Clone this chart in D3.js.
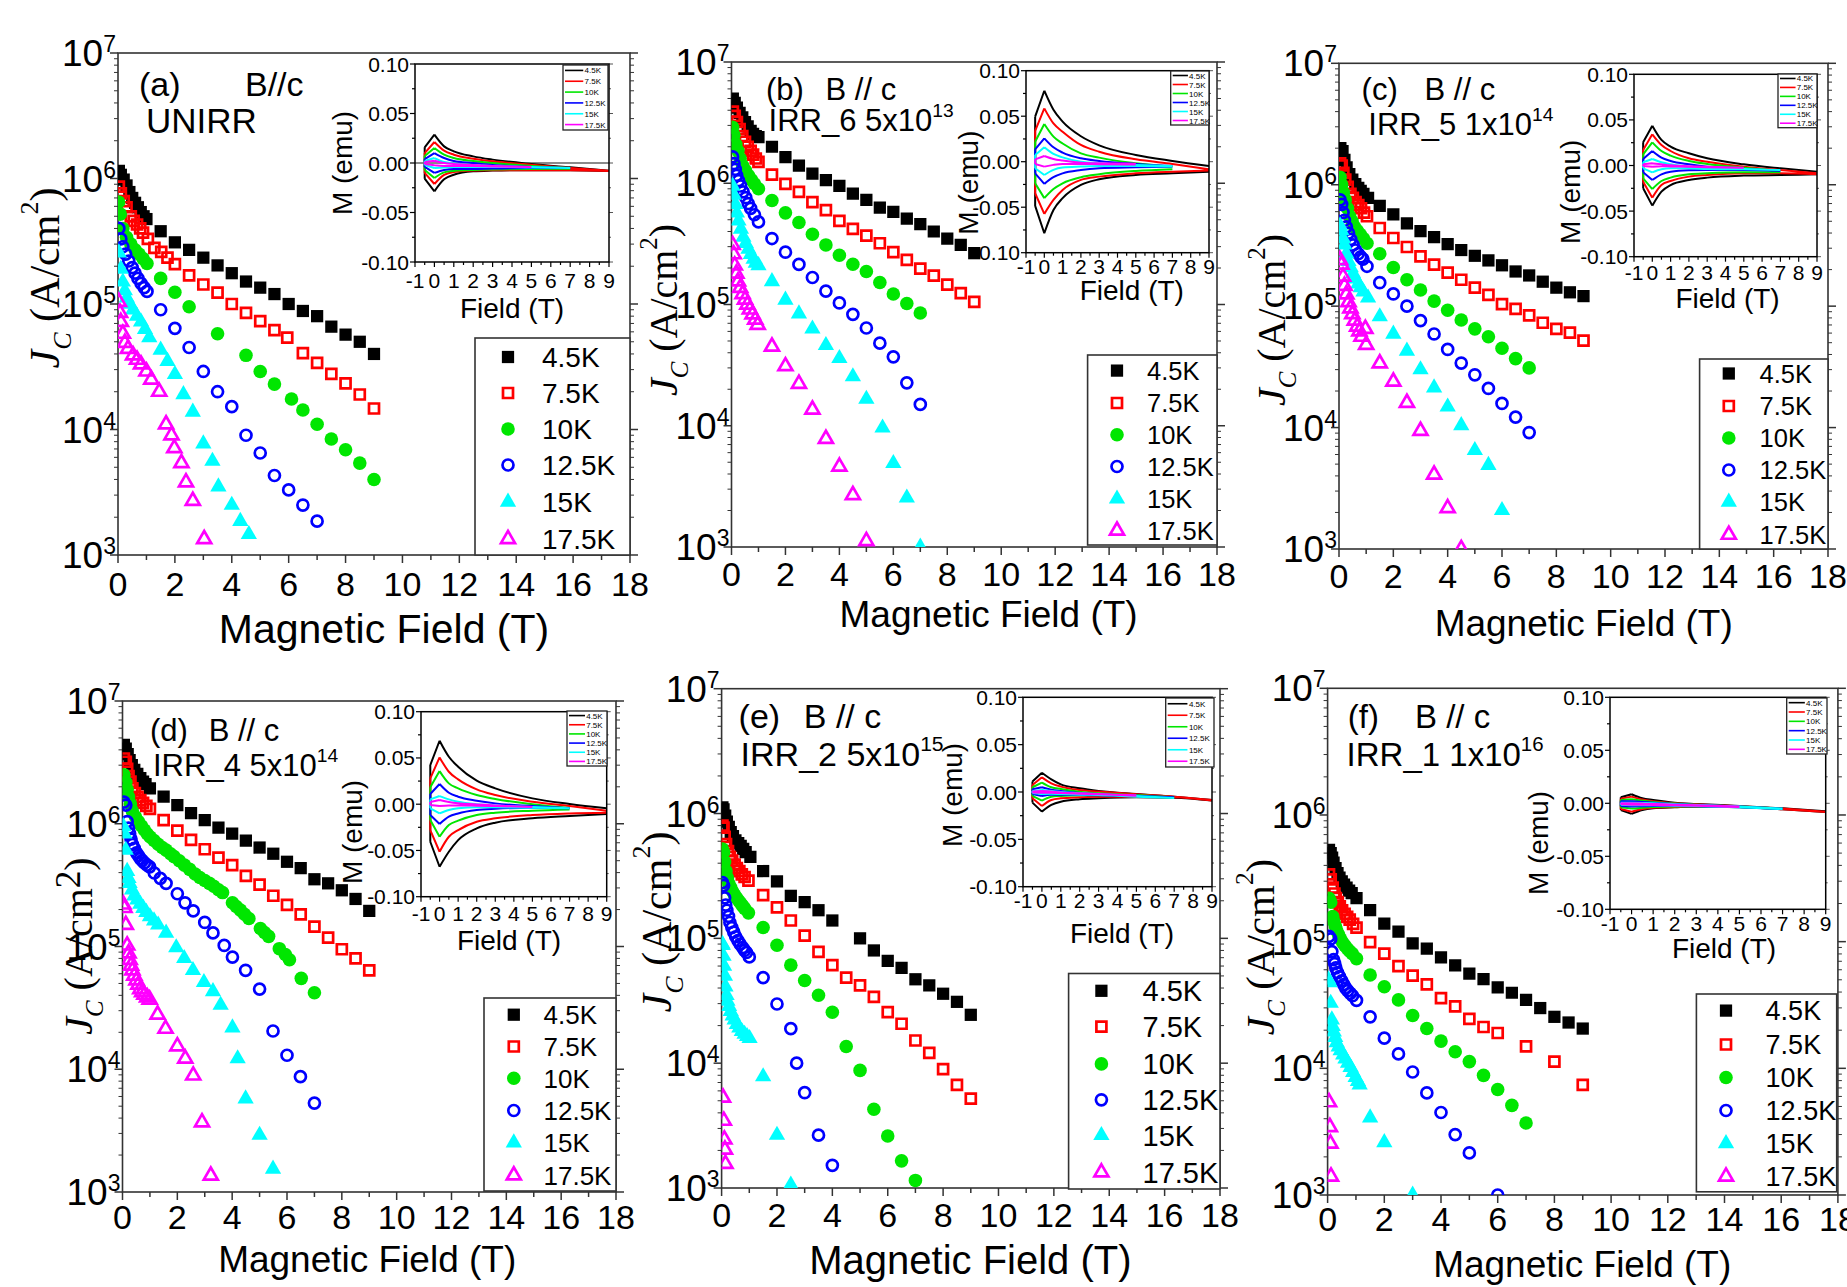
<!DOCTYPE html>
<html><head><meta charset="utf-8">
<script src="https://d3js.org/d3.v7.min.js"></script>
<style>body{margin:0;background:#fff}svg{display:block}text{font-family:"Liberation Sans",Arial,sans-serif;fill:#000}</style>
</head><body><svg id="c" width="1847" height="1287"></svg>
<script>
// ---------------- DATA ----------------
const temps = ["4.5K","7.5K","10K","12.5K","15K","17.5K"];
const colors = ["#000000","#ff0000","#00e600","#0000ff","#00ffff","#ff00ff"];
const shapes = ["square","square","circle","circle","triangle","triangle"];
const filled = [true,false,true,false,true,false];
const xTickValues = [0,2,4,6,8,10,12,14,16,18];
const yTickExps = [3,4,5,6,7];
const insetXTickValues = [-1,0,1,2,3,4,5,6,7,8,9];
const insetYTickValues = [-0.10,-0.05,0,0.05,0.10];
const insetYTickLabels = ["-0.10","-0.05","0.00","0.05","0.10"];
const insetFields = [-0.5,0,0.5,1,2,3,5,7,9];
const panelLabels = ["(a)","(b)","(c)","(d)","(e)","(f)"];
const panelOrient = ["B//c","B // c","B // c","B // c","B // c","B // c"];
const sampleNames = ["UNIRR","IRR_6 5x10","IRR_5 1x10","IRR_4 5x10","IRR_2 5x10","IRR_1 1x10"];
const fluenceExp = ["","13","14","14","15","16"];

// Jc(B) per panel, series order 4.5K,7.5K,10K,12.5K,15K,17.5K ; [B (T), Jc (A/cm2)]
const jcA = [
 [[0.03,1.15e6],[0.1,1.07e6],[0.2,9.8e5],[0.3,8.8e5],[0.4,7.8e5],[0.5,7.0e5],[0.6,6.4e5],[0.7,5.9e5],[0.8,5.4e5],[0.9,5.0e5],[1.0,4.75e5],[1.5,3.8e5],[2,3.1e5],[2.5,2.7e5],[3,2.34e5],[3.5,2.03e5],[4,1.76e5],[4.5,1.51e5],[5,1.35e5],[5.5,1.2e5],[6,1.0e5],[6.5,8.8e4],[7,8.0e4],[7.5,6.6e4],[8,5.7e4],[8.5,5.0e4],[9,4.0e4]],
 [[0.03,8.6e5],[0.1,7.6e5],[0.2,6.6e5],[0.3,5.9e5],[0.45,5.0e5],[0.55,4.6e5],[0.67,4.3e5],[0.78,4.0e5],[0.88,3.7e5],[1.05,3.3e5],[1.28,2.8e5],[1.52,2.6e5],[1.74,2.34e5],[2,2.08e5],[2.5,1.69e5],[3,1.43e5],[3.5,1.23e5],[4,1.0e5],[4.5,8.5e4],[5,7.3e4],[5.5,6.2e4],[5.95,5.4e4],[6.5,4.06e4],[7,3.4e4],[7.5,2.77e4],[8,2.33e4],[8.5,1.9e4],[9,1.47e4]],
 [[0.02,6.5e5],[0.08,5.2e5],[0.17,4.0e5],[0.3,3.4e5],[0.45,3.0e5],[0.6,2.7e5],[0.74,2.5e5],[0.88,2.3e5],[1.02,2.1e5],[1.5,1.6e5],[2,1.24e5],[2.5,9.5e4],[3.5,5.8e4],[4.5,3.9e4],[5,2.9e4],[5.5,2.3e4],[6.1,1.75e4],[6.5,1.43e4],[7,1.1e4],[7.5,8.4e3],[8,6.9e3],[8.5,5.4e3],[9,4.0e3]],
 [[0.03,4.0e5],[0.1,3.3e5],[0.17,2.86e5],[0.27,2.5e5],[0.38,2.2e5],[0.5,1.95e5],[0.6,1.76e5],[0.7,1.6e5],[0.81,1.46e5],[0.92,1.35e5],[1.02,1.26e5],[1.5,9.0e4],[2,6.4e4],[2.5,4.5e4],[3,2.9e4],[3.5,2.0e4],[4,1.52e4],[4.5,9.0e3],[5,6.5e3],[5.5,4.3e3],[6,3.3e3],[6.5,2.5e3],[7,1.86e3]],
 [[0.03,2.56e5],[0.1,1.9e5],[0.17,1.5e5],[0.24,1.28e5],[0.31,1.12e5],[0.42,1.0e5],[0.53,9.0e4],[0.67,8.0e4],[0.81,7.2e4],[0.95,6.3e4],[1.1,5.4e4],[1.5,4.3e4],[1.74,3.5e4],[2,2.75e4],[2.3,1.9e4],[2.63,1.38e4],[3,7.7e3],[3.32,5.6e3],[3.53,3.5e3],[4,2.5e3],[4.3,1.86e3],[4.6,1.46e3]],
 [[0.03,1.04e5],[0.07,8.5e4],[0.1,7.2e4],[0.17,5.8e4],[0.24,4.9e4],[0.35,4.4e4],[0.53,3.9e4],[0.67,3.6e4],[0.81,3.3e4],[1.0,2.9e4],[1.17,2.5e4],[1.45,2.0e4],[1.69,1.1e4],[1.88,9.0e3],[1.98,7.1e3],[2.23,5.4e3],[2.39,3.8e3],[2.63,2.7e3],[3.03,1.34e3]]
];
const jcB = [
 [[0.05,5.0e6],[0.12,4.6e6],[0.2,4.2e6],[0.3,3.8e6],[0.4,3.5e6],[0.5,3.2e6],[0.6,2.95e6],[0.71,2.7e6],[0.8,2.55e6],[0.9,2.45e6],[1.0,2.4e6],[1.5,2.0e6],[2,1.64e6],[2.5,1.4e6],[3,1.2e6],[3.5,1.06e6],[4,9.5e5],[4.5,8.2e5],[5,7.3e5],[5.5,6.3e5],[6,5.8e5],[6.5,5.1e5],[7,4.6e5],[7.5,4.0e5],[8,3.5e5],[8.5,3.1e5],[9,2.65e5]],
 [[0.05,3.9e6],[0.12,3.6e6],[0.2,3.2e6],[0.3,2.8e6],[0.4,2.45e6],[0.5,2.2e6],[0.6,2.0e6],[0.71,1.85e6],[0.8,1.72e6],[0.9,1.6e6],[1.0,1.5e6],[1.5,1.18e6],[2,9.9e5],[2.5,8.5e5],[3,7.0e5],[3.5,6.0e5],[4,4.9e5],[4.5,4.2e5],[5,3.7e5],[5.5,3.2e5],[6,2.7e5],[6.5,2.33e5],[7,1.98e5],[7.5,1.73e5],[8,1.46e5],[8.5,1.24e5],[9,1.05e5]],
 [[0.04,2.9e6],[0.09,2.5e6],[0.16,2.1e6],[0.24,1.85e6],[0.32,1.6e6],[0.41,1.4e6],[0.52,1.27e6],[0.63,1.16e6],[0.74,1.07e6],[0.85,9.9e5],[1.0,9.0e5],[1.5,7.2e5],[2,5.7e5],[2.5,4.75e5],[3,3.8e5],[3.5,3.1e5],[4,2.55e5],[4.5,2.15e5],[5,1.87e5],[5.5,1.52e5],[6,1.22e5],[6.5,1.02e5],[7,8.5e4]],
 [[0.04,1.65e6],[0.09,1.45e6],[0.14,1.3e6],[0.19,1.16e6],[0.26,1.05e6],[0.34,9.5e5],[0.43,8.5e5],[0.53,7.6e5],[0.62,6.8e5],[0.71,6.2e5],[0.85,5.5e5],[1.0,4.8e5],[1.5,3.5e5],[2,2.7e5],[2.5,2.14e5],[3,1.67e5],[3.5,1.29e5],[4,1.03e5],[4.5,8.3e4],[5,6.4e4],[5.5,4.8e4],[6,3.7e4],[6.5,2.26e4],[7,1.5e4]],
 [[0.04,9.5e5],[0.09,8.0e5],[0.15,6.7e5],[0.2,5.7e5],[0.26,4.9e5],[0.35,4.2e5],[0.44,3.6e5],[0.53,3.2e5],[0.63,2.87e5],[0.72,2.6e5],[0.82,2.37e5],[0.9,2.2e5],[1.0,2.1e5],[1.5,1.55e5],[2,1.09e5],[2.5,8.4e4],[3,6.3e4],[3.5,4.6e4],[4,3.6e4],[4.5,2.54e4],[5,1.66e4],[5.6,9.6e3],[6,4.9e3],[6.5,2.54e3],[7,1.0e3]],
 [[0.04,3.1e5],[0.08,2.6e5],[0.12,2.1e5],[0.18,1.8e5],[0.24,1.55e5],[0.32,1.37e5],[0.41,1.22e5],[0.5,1.1e5],[0.59,1.0e5],[0.68,9.1e4],[0.78,8.3e4],[0.88,7.5e4],[0.97,6.8e4],[1.5,4.5e4],[2,3.1e4],[2.5,2.22e4],[3,1.36e4],[3.5,7.8e3],[4,4.6e3],[4.5,2.68e3],[5,1.12e3]]
];
const jcC = [
 [[0.05,2.0e6],[0.13,1.89e6],[0.2,1.6e6],[0.28,1.39e6],[0.38,1.22e6],[0.49,1.1e6],[0.6,1.01e6],[0.71,9.4e5],[0.8,8.9e5],[0.9,8.4e5],[1.07,7.8e5],[1.5,6.7e5],[2,5.7e5],[2.5,4.8e5],[3,4.15e5],[3.5,3.7e5],[4,3.24e5],[4.5,2.9e5],[5,2.6e5],[5.5,2.38e5],[6,2.17e5],[6.5,1.93e5],[7,1.79e5],[7.5,1.59e5],[8,1.42e5],[8.5,1.3e5],[9,1.21e5]],
 [[0.04,1.5e6],[0.1,1.44e6],[0.16,1.25e6],[0.23,1.1e6],[0.32,9.6e5],[0.42,8.4e5],[0.51,7.8e5],[0.61,7.2e5],[0.71,6.8e5],[0.81,6.4e5],[0.92,5.9e5],[1.03,5.5e5],[1.5,4.4e5],[2,3.64e5],[2.5,3.07e5],[3,2.57e5],[3.5,2.2e5],[4,1.89e5],[4.5,1.65e5],[5,1.42e5],[5.5,1.24e5],[6,1.04e5],[6.5,9.5e4],[7,8.4e4],[7.5,7.3e4],[8,6.5e4],[8.5,6.05e4],[9,5.2e4]],
 [[0.04,1.15e6],[0.1,1.0e6],[0.16,8.6e5],[0.23,7.5e5],[0.31,6.4e5],[0.39,5.5e5],[0.48,5.0e5],[0.57,4.5e5],[0.67,4.2e5],[0.78,3.9e5],[0.9,3.6e5],[1.03,3.3e5],[1.5,2.7e5],[2,2.08e5],[2.5,1.65e5],[3,1.36e5],[3.5,1.1e5],[4,9.25e4],[4.5,7.7e4],[5,6.5e4],[5.5,5.6e4],[6,4.5e4],[6.5,3.7e4],[7,3.1e4]],
 [[0.04,7.5e5],[0.1,6.9e5],[0.15,5.9e5],[0.2,5.1e5],[0.27,4.5e5],[0.35,4.0e5],[0.43,3.55e5],[0.52,3.2e5],[0.61,2.9e5],[0.71,2.7e5],[0.8,2.55e5],[0.88,2.44e5],[1.03,2.13e5],[1.5,1.56e5],[2,1.26e5],[2.5,1.0e5],[3,7.6e4],[3.5,5.9e4],[4,4.4e4],[4.5,3.4e4],[5,2.72e4],[5.5,2.1e4],[6,1.58e4],[6.5,1.22e4],[7,9.1e3]],
 [[0.04,4.6e5],[0.09,4.2e5],[0.15,3.6e5],[0.2,3.2e5],[0.27,2.7e5],[0.35,2.34e5],[0.43,2.08e5],[0.52,1.86e5],[0.61,1.68e5],[0.71,1.53e5],[0.8,1.42e5],[0.9,1.31e5],[1.07,1.17e5],[1.5,8.2e4],[2,5.9e4],[2.5,4.27e4],[3,3.0e4],[3.5,2.13e4],[4,1.48e4],[4.5,1.04e4],[5,6.5e3],[5.5,4.9e3],[6,2.08e3]],
 [[0.04,2.4e5],[0.09,2.2e5],[0.15,1.75e5],[0.2,1.47e5],[0.27,1.25e5],[0.35,1.08e5],[0.42,9.6e4],[0.49,8.6e4],[0.58,7.6e4],[0.67,6.8e4],[0.75,6.2e4],[0.83,5.6e4],[0.97,6.5e4],[1.0,4.8e4],[1.5,3.38e4],[2,2.39e4],[2.5,1.6e4],[3,9.4e3],[3.5,4.1e3],[4,2.17e3],[4.5,1.0e3]]
];
const jcD = [
 [[0.05,4.4e6],[0.12,4.1e6],[0.19,3.7e6],[0.26,3.3e6],[0.34,3.0e6],[0.43,2.75e6],[0.54,2.55e6],[0.65,2.35e6],[0.75,2.2e6],[0.84,2.1e6],[1.0,1.94e6],[1.5,1.66e6],[2,1.42e6],[2.5,1.22e6],[3,1.07e6],[3.5,9.3e5],[4,8.3e5],[4.5,7.3e5],[5,6.4e5],[5.5,5.7e5],[6,4.9e5],[6.5,4.35e5],[7,3.53e5],[7.5,3.27e5],[8,2.87e5],[8.5,2.44e5],[9,1.95e5]],
 [[0.05,3.4e6],[0.12,3.2e6],[0.17,2.8e6],[0.22,2.45e6],[0.29,2.2e6],[0.36,1.94e6],[0.45,1.78e6],[0.55,1.66e6],[0.65,1.56e6],[0.75,1.48e6],[0.87,1.4e6],[1.0,1.32e6],[1.5,1.07e6],[2,8.8e5],[2.5,7.4e5],[3,6.2e5],[3.5,5.3e5],[4,4.6e5],[4.5,3.76e5],[5,3.19e5],[5.5,2.59e5],[6,2.18e5],[6.5,1.83e5],[7,1.45e5],[7.5,1.18e5],[8,9.5e4],[8.5,8.0e4],[9,6.4e4]],
 [[0.05,2.5e6],[0.12,2.18e6],[0.17,1.9e6],[0.22,1.66e6],[0.29,1.45e6],[0.36,1.27e6],[0.47,1.14e6],[0.58,1.04e6],[0.69,9.6e5],[0.8,8.9e5],[0.9,8.3e5],[1.01,7.8e5],[1.15,7.3e5],[1.3,6.8e5],[1.45,6.4e5],[1.59,6.1e5],[1.75,5.7e5],[1.88,5.4e5],[2.07,5.0e5],[2.26,4.6e5],[2.45,4.25e5],[2.65,3.9e5],[2.82,3.65e5],[3,3.45e5],[3.17,3.27e5],[3.33,3.1e5],[3.5,2.9e5],[3.65,2.75e5],[4.01,2.27e5],[4.15,2.12e5],[4.3,1.98e5],[4.45,1.83e5],[4.61,1.69e5],[5.03,1.4e5],[5.18,1.3e5],[5.33,1.21e5],[5.72,9.6e4],[5.94,8.6e4],[6.09,7.8e4],[6.52,5.5e4],[7,4.2e4]],
 [[0.05,1.5e6],[0.12,1.42e6],[0.17,1.04e6],[0.22,9.2e5],[0.26,8.3e5],[0.31,7.5e5],[0.36,6.8e5],[0.43,6.3e5],[0.51,5.8e5],[0.58,5.5e5],[0.65,5.2e5],[0.72,5.0e5],[0.8,4.8e5],[0.9,4.6e5],[0.99,4.46e5],[1.16,3.97e5],[1.38,3.59e5],[1.59,3.27e5],[2,2.69e5],[2.28,2.27e5],[2.58,1.95e5],[3,1.57e5],[3.3,1.29e5],[3.71,1.02e5],[4.01,8.2e4],[4.49,6.4e4],[5,4.5e4],[5.49,2.05e4],[6,1.3e4],[6.49,8.7e3],[7,5.3e3]],
 [[0.03,9.5e5],[0.07,8.3e5],[0.12,6.1e5],[0.17,4.1e5],[0.22,3.6e5],[0.26,3.27e5],[0.35,2.9e5],[0.43,2.59e5],[0.54,2.4e5],[0.65,2.22e5],[0.76,2.05e5],[0.87,1.9e5],[1.0,1.75e5],[1.15,1.62e5],[1.3,1.5e5],[1.59,1.29e5],[1.96,9.8e4],[2.25,8.0e4],[2.57,6.4e4],[2.97,5.1e4],[3.3,4.3e4],[3.58,3.33e4],[4.01,2.18e4],[4.2,1.22e4],[4.49,5.75e3],[5,2.91e3],[5.49,1.54e3]],
 [[0.03,2.2e5],[0.07,2.06e5],[0.12,1.5e5],[0.17,1.02e5],[0.22,8.8e4],[0.26,7.8e4],[0.31,7.0e4],[0.36,6.4e4],[0.43,5.8e4],[0.51,5.3e4],[0.58,4.9e4],[0.65,4.5e4],[0.72,4.25e4],[0.8,4.05e4],[0.9,3.85e4],[0.99,3.7e4],[1.28,2.79e4],[1.57,2.14e4],[2,1.54e4],[2.29,1.22e4],[2.58,8.9e3],[2.9,3.7e3],[3.22,1.36e3]]
];
const jcE = [
 [[0.03,1.12e6],[0.07,1.08e6],[0.13,9.6e5],[0.19,8.6e5],[0.26,7.8e5],[0.33,7.1e5],[0.41,6.6e5],[0.5,6.1e5],[0.6,5.8e5],[0.69,5.5e5],[0.78,5.2e5],[0.87,4.9e5],[1.04,4.5e5],[1.5,3.46e5],[2,2.86e5],[2.5,2.19e5],[3,1.95e5],[3.5,1.68e5],[4,1.39e5],[5,1.0e5],[5.5,8.0e4],[6,6.6e4],[6.5,5.8e4],[7,4.7e4],[7.5,4.2e4],[8,3.6e4],[8.5,3.1e4],[9,2.44e4]],
 [[0.03,8.0e5],[0.07,7.7e5],[0.11,6.5e5],[0.16,5.7e5],[0.23,5.0e5],[0.3,4.5e5],[0.38,4.2e5],[0.47,3.9e5],[0.55,3.65e5],[0.64,3.46e5],[0.73,3.25e5],[0.83,3.1e5],[0.97,2.9e5],[1.5,2.22e5],[2,1.77e5],[2.5,1.39e5],[3,1.05e5],[3.5,7.8e4],[4,6.1e4],[4.5,4.85e4],[5,4.2e4],[5.5,3.4e4],[6,2.56e4],[6.5,2.07e4],[7,1.52e4],[7.5,1.21e4],[8,8.96e3],[8.5,6.7e3],[9,5.2e3]],
 [[0.03,5.2e5],[0.07,4.9e5],[0.11,4.1e5],[0.16,3.46e5],[0.21,3.05e5],[0.26,2.75e5],[0.33,2.55e5],[0.4,2.36e5],[0.47,2.22e5],[0.54,2.11e5],[0.62,2.0e5],[0.69,1.91e5],[0.76,1.82e5],[0.83,1.74e5],[0.97,1.6e5],[1.5,1.22e5],[2,8.8e4],[2.5,6.1e4],[3,4.6e4],[3.5,3.5e4],[4,2.56e4],[4.5,1.36e4],[5,8.75e3],[5.5,4.28e3],[6,2.61e3],[6.5,1.65e3],[7,1.15e3]],
 [[0.03,2.8e5],[0.07,2.65e5],[0.11,2.11e5],[0.15,1.85e5],[0.19,1.68e5],[0.25,1.5e5],[0.3,1.34e5],[0.37,1.22e5],[0.44,1.12e5],[0.51,1.03e5],[0.59,9.6e4],[0.67,9.0e4],[0.76,8.45e4],[0.83,8.0e4],[0.9,7.7e4],[1.0,7.1e4],[1.5,4.85e4],[2,2.98e4],[2.5,1.89e4],[2.71,1.0e4],[3,5.8e3],[3.5,2.65e3],[4,1.52e3]],
 [[0.03,9.0e4],[0.04,8.8e4],[0.07,7.2e4],[0.09,6.0e4],[0.12,5.0e4],[0.14,4.1e4],[0.18,3.5e4],[0.21,3.15e4],[0.27,2.85e4],[0.33,2.6e4],[0.4,2.4e4],[0.47,2.23e4],[0.55,2.05e4],[0.64,1.92e4],[0.73,1.8e4],[0.83,1.71e4],[0.92,1.64e4],[1.01,1.58e4],[1.5,7.8e3],[2,2.65e3],[2.5,1.06e3]],
 [[0.05,5.3e3],[0.08,3.46e3],[0.1,2.45e3],[0.12,2.03e3],[0.14,1.56e3]]
];
const jcF = [
 [[0.05,5.3e5],[0.11,5.0e5],[0.16,4.6e5],[0.21,4.2e5],[0.28,3.8e5],[0.35,3.47e5],[0.42,3.2e5],[0.5,2.99e5],[0.58,2.82e5],[0.67,2.67e5],[0.76,2.53e5],[0.85,2.42e5],[1.02,2.21e5],[1.5,1.77e5],[2,1.39e5],[2.5,1.2e5],[3,9.7e4],[3.5,8.8e4],[4,7.5e4],[4.5,6.5e4],[5,5.6e4],[5.5,5.06e4],[6,4.35e4],[6.5,3.95e4],[7,3.47e4],[7.5,2.99e4],[8,2.55e4],[8.5,2.3e4],[9,2.06e4]],
 [[0.05,3.4e5],[0.11,3.1e5],[0.18,2.67e5],[0.24,2.4e5],[0.29,2.21e5],[0.36,2.05e5],[0.43,1.9e5],[0.51,1.77e5],[0.6,1.66e5],[0.69,1.57e5],[0.78,1.49e5],[0.9,1.38e5],[1.02,1.29e5],[1.5,9.93e4],[2,8.05e4],[2.5,6.4e4],[3,5.4e4],[3.5,4.6e4],[4,3.58e4],[4.5,3.08e4],[5,2.46e4],[5.5,2.12e4],[6,1.9e4],[7,1.49e4],[8,1.13e4],[9,7.4e3]],
 [[0.05,2.2e5],[0.11,2.05e5],[0.18,1.58e5],[0.23,1.43e5],[0.28,1.31e5],[0.33,1.21e5],[0.39,1.13e5],[0.46,1.05e5],[0.53,9.85e4],[0.61,9.3e4],[0.7,8.8e4],[0.78,8.4e4],[0.87,8.05e4],[1.02,7.35e4],[1.5,5.45e4],[2,4.4e4],[2.5,3.47e4],[3,2.61e4],[3.5,2.06e4],[4,1.64e4],[4.5,1.35e4],[5,1.13e4],[5.5,8.8e3],[6,6.8e3],[6.5,5.1e3],[7,3.7e3]],
 [[0.05,1.1e5],[0.11,1.05e5],[0.15,8.35e4],[0.21,7.2e4],[0.25,6.7e4],[0.29,6.2e4],[0.35,5.7e4],[0.42,5.3e4],[0.5,4.9e4],[0.57,4.58e4],[0.64,4.3e4],[0.71,4.1e4],[0.8,3.9e4],[0.88,3.74e4],[1.02,3.44e4],[1.5,2.55e4],[2,1.73e4],[2.5,1.3e4],[3,9.35e3],[3.5,6.4e3],[4,4.48e3],[4.5,3.0e3],[5,2.15e3],[6,1.0e3]],
 [[0.03,5.0e4],[0.07,4.76e4],[0.11,3.27e4],[0.15,2.42e4],[0.18,2.15e4],[0.22,1.94e4],[0.27,1.76e4],[0.32,1.6e4],[0.39,1.48e4],[0.46,1.38e4],[0.55,1.28e4],[0.63,1.19e4],[0.72,1.1e4],[0.81,1.02e4],[0.9,9.3e3],[0.99,8.5e3],[1.07,7.9e3],[1.13,7.4e3],[1.5,4.07e3],[2,2.6e3],[3,1.0e3]],
 [[0.05,5.4e3],[0.08,3.44e3],[0.1,2.55e3],[0.12,1.4e3]]
];

// Inset M(H): upper and lower branch values (emu) at insetFields, per temperature
const mUpA = [[0.0158,0.0286,0.0168,0.0118,0.0067,0.0034,-0.001,-0.0044,-0.0077],[0.010,0.0212,0.0125,0.0084,0.0044,0.0017,-0.0017,-0.005,-0.0077],[0.007,0.0152,0.0085,0.005,0.002,0.0,-0.003,-0.005],[0.004,0.010,0.005,0.002,0.0,-0.002,-0.004,-0.005],[0.002,0.005,0.001,-0.0005,-0.002,-0.003,-0.004,-0.005],[0.001,0.0023,0.0,-0.001,-0.002,-0.003,-0.004]];
const mLoA = [[-0.0158,-0.0286,-0.0165,-0.0118,-0.0084,-0.0077,-0.0072,-0.0074,-0.0082],[-0.010,-0.0212,-0.012,-0.0091,-0.0077,-0.0074,-0.0072,-0.0074,-0.008],[-0.007,-0.0152,-0.0095,-0.008,-0.007,-0.0065,-0.006,-0.0058],[-0.004,-0.010,-0.007,-0.006,-0.006,-0.0055,-0.005,-0.005],[-0.002,-0.005,-0.0045,-0.004,-0.004,-0.004,-0.0045,-0.005],[-0.001,-0.0023,-0.003,-0.003,-0.003,-0.0035,-0.004]];
const mUpB = [[0.0495,0.078,0.057,0.044,0.028,0.018,0.0074,0.0008,-0.0047],[0.034,0.0586,0.042,0.033,0.0184,0.011,0.0026,-0.0025,-0.0083],[0.022,0.0414,0.0275,0.020,0.0092,0.0045,-0.0018,-0.0055],[0.0136,0.0257,0.0158,0.010,0.0037,0.0008,-0.0025,-0.0047],[0.0074,0.0158,0.0085,0.0048,0.0,-0.0018,-0.0036,-0.0047],[0.0026,0.0063,0.003,0.0012,-0.0011,-0.0018,-0.0022]];
const mLoB = [[-0.0486,-0.0786,-0.053,-0.040,-0.0255,-0.0193,-0.0146,-0.0128,-0.011],[-0.0347,-0.0574,-0.042,-0.031,-0.020,-0.0164,-0.0128,-0.011,-0.0098],[-0.0237,-0.040,-0.030,-0.0237,-0.017,-0.0138,-0.0102,-0.0083],[-0.0128,-0.0244,-0.017,-0.0128,-0.0091,-0.0072,-0.0061,-0.0054],[-0.0072,-0.0146,-0.009,-0.0065,-0.0054,-0.0047,-0.0047,-0.0054],[-0.0025,-0.0054,-0.0035,-0.0025,-0.0025,-0.0028,-0.003]];
const mUpC = [[0.0254,0.0437,0.028,0.0207,0.0134,0.0079,0.0013,-0.0031,-0.0068],[0.017,0.0342,0.0225,0.0159,0.0079,0.0042,-0.0013,-0.005,-0.0086],[0.0123,0.0254,0.0159,0.0108,0.005,0.0017,-0.0024,-0.006],[0.0071,0.0159,0.0086,0.005,0.0013,-0.0013,-0.0038,-0.0057],[0.0035,0.0071,0.0035,0.0013,-0.0013,-0.0024,-0.0038,-0.005],[0.0013,0.0024,0.0013,0.0002,-0.0008,-0.0015,-0.0025]];
const mLoC = [[-0.025,-0.044,-0.0287,-0.0214,-0.0159,-0.0133,-0.0111,-0.0104,-0.0097],[-0.0177,-0.0353,-0.0214,-0.017,-0.0122,-0.0104,-0.0086,-0.0086,-0.0097],[-0.0141,-0.0258,-0.017,-0.0133,-0.0097,-0.0086,-0.0075,-0.0075],[-0.0075,-0.0159,-0.0097,-0.0068,-0.0053,-0.005,-0.005,-0.0057],[-0.0031,-0.0075,-0.0042,-0.0031,-0.0031,-0.0038,-0.0042,-0.005],[-0.0006,-0.0013,-0.0008,-0.001,-0.0013,-0.0018,-0.0025]];
const mUpD = [[0.0423,0.0686,0.0513,0.0405,0.0254,0.0171,0.0063,0.0002,-0.0045],[0.0279,0.0506,0.0351,0.0268,0.016,0.0099,0.0027,-0.002,-0.007],[0.0182,0.0358,0.0225,0.0171,0.0099,0.0056,0.0,-0.004],[0.011,0.0218,0.0124,0.0081,0.0038,0.0009,-0.002,-0.0045],[0.0052,0.0088,0.0052,0.0027,0.0,-0.0014,-0.0029,-0.0045],[0.0023,0.0045,0.0023,0.0009,-0.0002,-0.0014,-0.0029]];
const mLoD = [[-0.0406,-0.0676,-0.0514,-0.0388,-0.0261,-0.020,-0.0153,-0.0128,-0.0106],[-0.028,-0.0514,-0.0352,-0.028,-0.019,-0.0153,-0.0117,-0.010,-0.0092],[-0.0171,-0.0352,-0.0225,-0.0178,-0.0117,-0.0092,-0.007,-0.0056],[-0.0117,-0.0214,-0.0135,-0.010,-0.0063,-0.0049,-0.0038,-0.0045],[-0.0045,-0.010,-0.0063,-0.0045,-0.0034,-0.0034,-0.0038,-0.0045],[-0.0009,-0.002,-0.0013,-0.0013,-0.0016,-0.002,-0.0029]];
const mUpE = [[0.011,0.0204,0.0134,0.0081,0.0039,0.0011,-0.0021,-0.0049,-0.0084],[0.0074,0.0155,0.0092,0.0057,0.0021,0.0004,-0.0025,-0.0049,-0.0084],[0.005,0.0099,0.005,0.0032,0.0004,-0.0014,-0.0032,-0.0056],[0.0029,0.005,0.0025,0.0011,-0.001,-0.0025,-0.0039,-0.0056],[0.0011,0.0021,0.0011,0.0,-0.0014,-0.0025,-0.0042,-0.0063],[0.0004,0.0011,0.0004,-0.0004,-0.0014,-0.0021,-0.0035]];
const mLoE = [[-0.0112,-0.0207,-0.0137,-0.0102,-0.0077,-0.0067,-0.0056,-0.006,-0.0091],[-0.0067,-0.0148,-0.0084,-0.0067,-0.0056,-0.0049,-0.0049,-0.0056,-0.0091],[-0.0042,-0.0091,-0.0049,-0.0042,-0.0035,-0.0035,-0.0042,-0.006],[-0.0021,-0.0042,-0.0028,-0.0028,-0.0032,-0.0035,-0.0042,-0.0056],[-0.0011,-0.0021,-0.0018,-0.0021,-0.0028,-0.0032,-0.0049,-0.0063],[-0.0004,-0.0007,-0.0007,-0.0011,-0.0018,-0.0025,-0.0039]];
const mUpF = [[0.0057,0.0085,0.0047,0.0031,0.0006,-0.0006,-0.0025,-0.0047,-0.0076],[0.0044,0.0063,0.0035,0.0019,0.0,-0.0009,-0.0028,-0.005,-0.0079],[0.0031,0.0038,0.0025,0.0013,-0.0003,-0.0013,-0.0031,-0.005],[0.0019,0.0019,0.0013,0.0006,-0.0006,-0.0016,-0.0031,-0.005],[0.0006,0.0006,0.0003,0.0,-0.0009,-0.0016,-0.0031,-0.005],[0.0,0.0,-0.0003,-0.0006,-0.0013,-0.0019,-0.0031]];
const mLoF = [[-0.0063,-0.010,-0.0063,-0.0047,-0.0038,-0.0031,-0.0035,-0.0057,-0.0082],[-0.0054,-0.0079,-0.0054,-0.0041,-0.0035,-0.0031,-0.0035,-0.0057,-0.0082],[-0.0038,-0.005,-0.0041,-0.0035,-0.0031,-0.0031,-0.0038,-0.0054],[-0.0025,-0.0031,-0.0028,-0.0025,-0.0025,-0.0028,-0.0038,-0.0054],[-0.0013,-0.0019,-0.0019,-0.0019,-0.0022,-0.0025,-0.0038,-0.0054],[-0.0009,-0.0013,-0.0013,-0.0016,-0.0019,-0.0022,-0.0035]];

const jcAll = [jcA,jcB,jcC,jcD,jcE,jcF];
const mUpAll = [mUpA,mUpB,mUpC,mUpD,mUpE,mUpF];
const mLoAll = [mLoA,mLoB,mLoC,mLoD,mLoE,mLoF];

// ---------------- LAYOUT ----------------
const layout = [
 {L:118,R:630,T:53,B:555,tb:41, il:415,ir:609,it:64,ib:262, lg:[475,630,338,555],symX:508,txtX:542,rows:[357,393,429,465,502,539],lfs:28,
  ann:[139,96,245,96,146,133],afs:34, xt:[384,643,41], yt:[59,278,42,0.62], ift:[512,318], ime:[352,163], itb:288, ilg:[563,608,65,130], zero:true},
 {L:731.5,R:1217,T:62,B:547,tb:39, il:1026,ir:1209,it:70.7,ib:252.7, lg:[1087.6,1217,355,545],symX:1117,txtX:1147,rows:[370.6,403,434.7,466.5,498.8,530.6],lfs:25.5,
  ann:[766,100,825.5,100,768.6,131.4],afs:31, xt:[988.6,627,37], yt:[677,310,40,0.62], ift:[1131.8,300], ime:[977.7,182.6], itb:273.5, ilg:[1170.7,1209,71,125]},
 {L:1339,R:1828,T:63.3,B:549,tb:39, il:1634,ir:1817,it:74.3,ib:256.7, lg:[1699.6,1828,359,549],symX:1728.8,txtX:1759.6,rows:[373.5,406,438,470,502,534.7],lfs:25.5,
  ann:[1361.6,100,1424.5,100,1368.3,134.7],afs:31, xt:[1583.7,636,37], yt:[1285,320,40,0.62], ift:[1727.6,308], ime:[1580,191.8], itb:279.6, ilg:[1778,1817,74,127.7]},
 {L:122.5,R:616,T:701,B:1192,tb:37, il:421,ir:606.7,it:711.7,ib:896.7, lg:[484,616,998,1191],symX:513.8,txtX:543.5,rows:[1014.7,1046.5,1078.3,1110.5,1142.7,1175.3],lfs:26,
  ann:[150,741,208.7,741,153,776],afs:31, xt:[367.2,1272,37], yt:[92,946,40,0.88], ift:[509,949.5], ime:[361.7,832], itb:920.6, ilg:[567,607,711,766]},
 {L:721.6,R:1220,T:688.7,B:1188,tb:39, il:1023,ir:1212,it:697.3,ib:886.7, lg:[1068.6,1220,973.5,1189],symX:1101.4,txtX:1142.5,rows:[990.8,1026.7,1063.9,1099.8,1135.3,1172.4],lfs:29,
  ann:[738.6,728,803.8,728,740.6,765.9],afs:34, xt:[970.4,1274,40], yt:[671,922,42,0.62], ift:[1122,943], ime:[962,795], itb:908, ilg:[1165.7,1214,698,767]},
 {L:1327.6,R:1837.9,T:688.3,B:1195,tb:36, il:1610,ir:1825.7,it:697.3,ib:909.3, lg:[1696.4,1836.7,994,1191.8],symX:1726,txtX:1765.6,rows:[1010.6,1044.5,1077.5,1110.5,1143.5,1176.5],lfs:27,
  ann:[1347.8,728,1415,728,1346.6,766],afs:33, xt:[1582.2,1277,37], yt:[1273.5,947,41,0.62], ift:[1724,957.8], ime:[1548,843], itb:931, ilg:[1786.7,1827,698,754]}
];

const svg = d3.select("#c");
const FRAME = "#333";

function symbolPath(i){
  if (shapes[i]==="square") return d3.symbol(d3.symbolSquare, filled[i]?150:100)();
  if (shapes[i]==="circle") return d3.symbol(d3.symbolCircle, filled[i]?145:95)();
  return d3.symbol(d3.symbolTriangle, filled[i]?115:85)();
}
function styleMarker(sel, i){
  if (filled[i]) sel.attr("fill", colors[i]).attr("stroke","none");
  else sel.attr("fill","none").attr("stroke", colors[i]).attr("stroke-width",2.7);
}

function drawPanel(k){
  const P = layout[k];
  const g = svg.append("g");
  const x = d3.scaleLinear().domain([0,18]).range([P.L,P.R]);
  const y = d3.scaleLog().domain([1e3,1e7]).range([P.B,P.T]);
  const cid = "clip"+k;
  svg.append("clipPath").attr("id",cid).append("rect")
    .attr("x",P.L).attr("y",P.T-1).attr("width",P.R-P.L).attr("height",P.B-P.T+1);

  d3.range(0,19).forEach(v=>{
    const len = v%2===0?8:5;
    g.append("line").attr("x1",x(v)).attr("x2",x(v)).attr("y1",P.B).attr("y2",P.B+len).attr("stroke",FRAME).attr("stroke-width",1.5);
  });
  xTickValues.forEach(v=>{
    g.append("text").attr("x",x(v)).attr("y",P.B+P.tb).attr("text-anchor","middle").attr("font-size",34).text(v);
  });
  yTickExps.forEach((e,ei)=>{
    const v = Math.pow(10,e);
    [P.L,P.R].forEach((xx,si)=>{
      const dir = si===0?-1:1;
      g.append("line").attr("x1",xx).attr("x2",xx+dir*8).attr("y1",y(v)).attr("y2",y(v)).attr("stroke",FRAME).attr("stroke-width",1.5);
      if (ei<yTickExps.length-1){
        d3.range(2,10).forEach(m=>{
          g.append("line").attr("x1",xx).attr("x2",xx+dir*4).attr("y1",y(m*v)).attr("y2",y(m*v)).attr("stroke",FRAME).attr("stroke-width",1);
        });
      }
    });
    const t = g.append("text").attr("x",P.L-2).attr("y",y(v)+13).attr("text-anchor","end").attr("font-size",37);
    t.append("tspan").text("10");
    t.append("tspan").attr("font-size",23).attr("dy",-14).text(e);
  });
  g.append("rect").attr("x",P.L).attr("y",P.T).attr("width",P.R-P.L).attr("height",P.B-P.T)
    .attr("fill","none").attr("stroke",FRAME).attr("stroke-width",1.6);

  const dg = g.append("g").attr("clip-path","url(#"+cid+")");
  jcAll[k].forEach((ser,i)=>{
    const sp = symbolPath(i);
    ser.forEach(d=>{
      const m = dg.append("path").attr("d",sp).attr("transform","translate("+x(d[0])+","+y(d[1])+")");
      styleMarker(m,i);
    });
  });

  const a = P.ann;
  g.append("text").attr("x",a[0]).attr("y",a[1]).attr("font-size",P.afs).text(panelLabels[k]);
  g.append("text").attr("x",a[2]).attr("y",a[3]).attr("font-size",P.afs).text(panelOrient[k]);
  const st = g.append("text").attr("x",a[4]).attr("y",a[5]).attr("font-size",k===0?35:P.afs);
  st.append("tspan").text(sampleNames[k]);
  if (fluenceExp[k]) st.append("tspan").attr("font-size",P.afs*0.62).attr("dy",-P.afs*0.45).text(fluenceExp[k]);

  g.append("text").attr("x",P.xt[0]).attr("y",P.xt[1]).attr("text-anchor","middle").attr("font-size",P.xt[2]).text("Magnetic Field (T)");
  const yt = g.append("text").attr("transform","translate("+P.yt[0]+","+P.yt[1]+") rotate(-90)")
    .attr("text-anchor","middle").attr("font-size",P.yt[2]).style("font-family","'Liberation Serif','Times New Roman',serif");
  const fs = P.yt[2], sup = P.yt[3];
  const supDy = sup>0.8 ? fs*0.3 : fs*0.5;
  yt.append("tspan").attr("font-style","italic").text("J");
  yt.append("tspan").attr("font-style","italic").attr("font-size",fs*0.62).attr("dy",fs*0.28).text("C");
  yt.append("tspan").attr("dy",-fs*0.28).text("\u00a0(A/cm");
  yt.append("tspan").attr("font-size",fs*sup).attr("dy",-supDy).text("2");
  yt.append("tspan").attr("dy",supDy).text(")");

  const lg = P.lg;
  g.append("rect").attr("x",lg[0]).attr("y",lg[2]).attr("width",lg[1]-lg[0]).attr("height",lg[3]-lg[2])
    .attr("fill","#fff").attr("stroke",FRAME).attr("stroke-width",1.6);
  temps.forEach((tn,i)=>{
    const m = g.append("path").attr("d",symbolPath(i)).attr("transform","translate("+P.symX+","+P.rows[i]+")");
    styleMarker(m,i);
    g.append("text").attr("x",P.txtX).attr("y",P.rows[i]+P.lfs*0.36).attr("font-size",P.lfs).text(tn);
  });

  drawInset(k);
}

function drawInset(k){
  const P = layout[k];
  const g = svg.append("g");
  const x = d3.scaleLinear().domain([-1,9]).range([P.il,P.ir]);
  const y = d3.scaleLinear().domain([-0.1,0.1]).range([P.ib,P.it]);
  g.append("rect").attr("x",P.il).attr("y",P.it).attr("width",P.ir-P.il).attr("height",P.ib-P.it).attr("fill","#fff");
  d3.range(-1,9.01,0.5).forEach(v=>{
    const major = Math.abs(v-Math.round(v))<1e-6;
    g.append("line").attr("x1",x(v)).attr("x2",x(v)).attr("y1",P.ib).attr("y2",P.ib+(major?5:3)).attr("stroke","#000").attr("stroke-width",1.2);
  });
  insetXTickValues.forEach(v=>{
    g.append("text").attr("x",x(v)).attr("y",P.itb).attr("text-anchor","middle").attr("font-size",21).text(v);
  });
  d3.range(-0.1,0.1001,0.025).forEach(v=>{
    const major = Math.abs(v*20-Math.round(v*20))<1e-6;
    g.append("line").attr("x1",P.il).attr("x2",P.il-(major?5:3)).attr("y1",y(v)).attr("y2",y(v)).attr("stroke","#000").attr("stroke-width",1.2);
    g.append("line").attr("x1",P.ir).attr("x2",P.ir+(major?4:2)).attr("y1",y(v)).attr("y2",y(v)).attr("stroke","#555").attr("stroke-width",1);
  });
  insetYTickValues.forEach((v,i)=>{
    g.append("text").attr("x",P.il-6).attr("y",y(v)+7.5).attr("text-anchor","end").attr("font-size",21).text(insetYTickLabels[i]);
  });
  if (P.zero){
    g.append("line").attr("x1",x(-1)).attr("x2",x(9)).attr("y1",y(0)).attr("y2",y(0)).attr("stroke","#8a8a8a").attr("stroke-width",2.2);
  }
  const lin = d3.line();
  const mono = d3.line().curve(d3.curveMonotoneX);
  mUpAll[k].forEach((up,i)=>{
    const lo = mLoAll[k][i];
    const U = up.map((v,j)=>[x(insetFields[j]),y(v)]);
    const Lw = lo.map((v,j)=>[x(insetFields[j]),y(v)]);
    const d = lin(U.slice(0,2)) + mono(U.slice(1)) + lin(Lw.slice(0,2)) + mono(Lw.slice(1)) + lin([U[0],Lw[0]]);
    g.append("path").attr("d",d).attr("fill","none").attr("stroke",colors[i]).attr("stroke-width",2).attr("stroke-linejoin","round");
  });
  g.append("rect").attr("x",P.il).attr("y",P.it).attr("width",P.ir-P.il).attr("height",P.ib-P.it)
    .attr("fill","none").attr("stroke","#000").attr("stroke-width",1.5);
  g.append("text").attr("x",P.ift[0]).attr("y",P.ift[1]).attr("text-anchor","middle").attr("font-size",28).text("Field (T)");
  g.append("text").attr("transform","translate("+P.ime[0]+","+P.ime[1]+") rotate(-90)").attr("text-anchor","middle").attr("font-size",28).text("M (emu)");
  const L = P.ilg;
  g.append("rect").attr("x",L[0]).attr("y",L[2]).attr("width",L[1]-L[0]).attr("height",L[3]-L[2])
    .attr("fill","#fff").attr("stroke","#222").attr("stroke-width",1.3);
  const rh = (L[3]-L[2])/6;
  temps.forEach((tn,i)=>{
    const yy = L[2]+rh*(i+0.5);
    g.append("line").attr("x1",L[0]+2).attr("x2",L[0]+(L[1]-L[0])*0.45).attr("y1",yy).attr("y2",yy).attr("stroke",colors[i]).attr("stroke-width",1.6);
    g.append("text").attr("x",L[0]+(L[1]-L[0])*0.48).attr("y",yy+3).attr("font-size",8).text(tn);
  });
}

layout.forEach((P,k)=>drawPanel(k));
</script></body></html>
